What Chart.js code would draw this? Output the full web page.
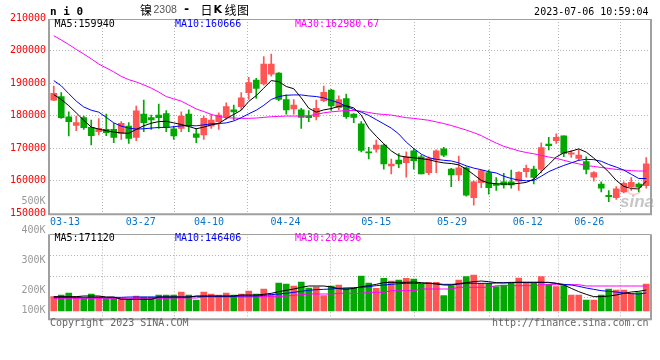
<!DOCTYPE html>
<html>
<head>
<meta charset="utf-8">
<script src="https://cdn.jsdelivr.net/npm/chart.js@4.4.0/dist/chart.umd.min.js"></script>
<style>
html, body { margin: 0; padding: 0; background: #fff; }
#wrap { position: relative; width: 660px; height: 360px; overflow: hidden; }
canvas { position: absolute; left: 0; }
#kline { top: 0; }
#vol { top: 222px; }
</style>
</head>
<body>
<div id="wrap">
  <canvas id="kline" width="660" height="232"></canvas>
  <canvas id="vol" width="660" height="138"></canvas>
</div>
<script>
// daily k-line, ni0 (nickel 2308), 80 sessions
const tickLabels = ['03-13', '03-27', '04-10', '04-24', '05-15', '05-29', '06-12', '06-26'];
const tickIndex = [1.5, 11.6, 20.7, 30.9, 43.0, 53.1, 63.2, 71.4];
const priceTicks = [150000, 160000, 170000, 180000, 190000, 200000, 210000];

const opens = [184800, 185900, 179700, 177000, 179400, 176400, 175100, 175800, 175800, 174600,
  176800, 173300, 180500, 179400, 180200, 180700, 176000, 176100, 180500, 174400,
  174100, 176800, 178200, 179700, 181800, 182800, 187100, 191000, 189800, 192800,
  193100, 185000, 182100, 181800, 179900, 179700, 184600, 187900, 182500, 185300,
  180500, 177500, 168800, 169700, 171000, 164600, 166400, 165600, 169200, 167400,
  162500, 166400, 169800, 163600, 161800, 164000, 154800, 159400, 162500, 158900,
  159700, 159700, 159900, 162800, 163600, 163500, 171300, 172300, 173800, 168200,
  166900, 165900, 161100, 159000, 155500, 154800, 156600, 158200, 159000, 158500];
const highs = [189100, 187100, 181200, 179900, 179900, 178700, 179100, 180500, 177700, 178200,
  177900, 183000, 184800, 180200, 183600, 181600, 176800, 181200, 181800, 176100,
  179900, 180500, 180900, 184000, 183300, 187100, 191800, 191500, 198200, 199000,
  193300, 186400, 185000, 182300, 181600, 184800, 189100, 188100, 186100, 186700,
  180700, 178200, 170300, 172500, 171300, 166700, 168400, 168900, 170000, 167900,
  167400, 169500, 170300, 163800, 167600, 164300, 159900, 163300, 163300, 161000,
  162300, 163300, 162800, 164800, 164500, 171700, 173400, 174400, 173800, 169300,
  169500, 167400, 162800, 159700, 157000, 158200, 159700, 161000, 159400, 167100];
const lows = [184600, 179200, 173800, 175400, 175800, 171000, 174100, 173900, 171700, 172700,
  171500, 172300, 175100, 175800, 176100, 175100, 172700, 175100, 175100, 171700,
  172700, 176100, 175800, 178900, 178700, 181800, 185000, 185300, 189400, 192200,
  184600, 180500, 180500, 176100, 178200, 178700, 184300, 181600, 181800, 179200,
  177900, 168900, 166700, 168800, 163600, 162100, 164000, 161100, 163600, 162100,
  161900, 162500, 167400, 158200, 160000, 155300, 152500, 157900, 155900, 157000,
  157700, 157700, 157000, 161100, 159000, 162400, 169500, 171500, 167400, 167200,
  166200, 162100, 159900, 156600, 153600, 154300, 156300, 157000, 156600, 157700];
const closes = [186900, 179400, 178200, 177900, 176300, 173900, 176100, 174800, 173300, 177700,
  173000, 181500, 177900, 178700, 179400, 176400, 173800, 179900, 176800, 173300,
  179200, 178700, 180200, 182800, 181200, 185500, 190200, 188400, 195900, 195900,
  185000, 181800, 183300, 179500, 179400, 182300, 187200, 183000, 185000, 179700,
  179500, 169300, 168600, 171000, 165200, 165100, 165200, 167400, 166200, 162100,
  166900, 169200, 167900, 161800, 164000, 155600, 159700, 163100, 157900, 158600,
  158700, 158700, 162600, 163800, 161000, 170200, 170800, 173400, 168400, 168600,
  167900, 163500, 162500, 157700, 155100, 157500, 159200, 159500, 158000, 165200];

const ma5 = [186500, 185000, 183100, 180900, 178600, 176500, 175900, 175400, 175000, 174700,
  174600, 175800, 176900, 177700, 178200, 178300, 177800, 177300, 176700, 176000,
  176500, 177200, 177600, 179100, 180400, 181700, 184400, 186200, 188500, 190800,
  190500, 189000, 188300, 185500, 182300, 181100, 181800, 182200, 182900, 183100,
  182400, 180200, 176200, 173700, 171400, 169200, 167700, 167300, 167100, 166800,
  166500, 165900, 165500, 165300, 164900, 163600, 161900, 160100, 159300, 159100,
  159000, 159000, 159200, 159500, 160500, 162800, 165000, 167300, 168600, 169100,
  169800, 168800, 167000, 164900, 162700, 160100, 158300, 157600, 157500, 159900];
const ma10 = [190800, 189200, 186800, 184500, 182700, 181700, 181100, 179500, 177800, 176800,
  176200, 175900, 176000, 176200, 176400, 176400, 176600, 176900, 177000, 176900,
  177200, 177500, 177600, 177800, 178400, 179400, 180600, 181700, 183200, 185000,
  185900, 186300, 186400, 186400, 186100, 185900, 185500, 184700, 184000, 182900,
  181900, 181100, 180100, 178800, 177500, 176200, 174400, 171900, 169900, 168200,
  167100, 166600, 166300, 166100, 165500, 164600, 163900, 163400, 162800, 162400,
  161400, 160700, 160200, 160000, 160100, 161400, 162800, 163800, 164700, 165500,
  166300, 166600, 166500, 166000, 165000, 164200, 163300, 162000, 160700, 160700];
const ma30 = [204600, 203300, 201900, 200400, 199000, 197500, 195900, 194700, 193500, 192100,
  191100, 190400, 189500, 188500, 187300, 185900, 185200, 184500, 183300, 182100,
  181300, 180400, 179800, 179400, 179300, 179200, 179200, 179300, 179500, 179700,
  179800, 179900, 179900, 179900, 180000, 180400, 180900, 181200, 181400, 181600,
  181600, 181400, 181000, 180600, 180400, 180200, 179800, 179400, 179200, 178900,
  178600, 178100, 177600, 177000, 176300, 175600, 174800, 173900, 172700, 171600,
  170600, 169900, 169200, 168700, 168300, 167800, 167300, 166900, 166300, 165700,
  165200, 164700, 164400, 164100, 163800, 163500, 163300, 163100, 163000, 163000];

const volumes = [116100, 129600, 145800, 116100, 102600, 137700, 116100, 102600, 102600, 102600,
  94500, 121500, 113400, 113400, 129600, 129600, 129600, 153900, 129600, 89100,
  153900, 137700, 129600, 145800, 129600, 137700, 162000, 137700, 178200, 137700,
  226800, 218700, 202500, 234900, 186300, 194400, 124200, 202500, 210600, 186300,
  183600, 283500, 226800, 183600, 264600, 243000, 251100, 264600, 259200, 216000,
  232200, 232200, 124200, 205200, 251100, 278100, 291600, 224100, 224100, 197100,
  210600, 226800, 267300, 229500, 224100, 278100, 216000, 197100, 205200, 129600,
  129600, 89100, 89100, 129600, 178200, 170100, 170100, 143100, 148500, 218700];
const volMa5 = [116100, 116100, 116100, 116100, 121500, 121500, 121500, 113400, 113400, 94500,
  94500, 94500, 94500, 94500, 113400, 113400, 113400, 113400, 113400, 121500,
  121500, 121500, 121500, 121500, 121500, 129600, 129600, 129600, 135000, 143100,
  156600, 167400, 178200, 191700, 202500, 202500, 202500, 194400, 180900, 175500,
  183600, 197100, 205200, 216000, 229500, 232200, 232200, 232200, 234900, 229500,
  224100, 218700, 210600, 210600, 221400, 229500, 237600, 243000, 237600, 229500,
  226800, 229500, 232200, 232200, 232200, 232200, 232200, 224100, 210600, 183600,
  156600, 135000, 116100, 116100, 121500, 129600, 143100, 153900, 159300, 170100];
const volMa10 = [110700, 110700, 110700, 110700, 110700, 110700, 110700, 110700, 110700, 110700,
  113400, 113400, 113400, 113400, 113400, 113400, 113400, 113400, 113400, 118800,
  118800, 118800, 118800, 118800, 118800, 121500, 121500, 121500, 126900, 132300,
  137700, 143100, 151200, 159300, 167400, 172800, 175500, 178200, 183600, 186300,
  189000, 191700, 197100, 205200, 210600, 216000, 221400, 224100, 224100, 224100,
  224100, 221400, 216000, 216000, 218700, 224100, 224100, 224100, 224100, 226800,
  229500, 232200, 232200, 232200, 232200, 232200, 229500, 224100, 216000, 210600,
  199800, 186300, 175500, 164700, 159300, 153900, 145800, 140400, 137700, 146400];
const volMa30 = [102600, 102600, 102600, 102600, 102600, 102600, 102600, 102600, 102600, 102600,
  102600, 102600, 102600, 102600, 102600, 102600, 105300, 105300, 105300, 105300,
  113400, 113400, 113400, 113400, 113400, 113400, 113400, 116100, 116100, 116100,
  116100, 121500, 126900, 132300, 137700, 137700, 137700, 137700, 143100, 143100,
  143100, 143100, 151200, 151200, 151200, 164700, 164700, 164700, 164700, 178200,
  178200, 178200, 178200, 178200, 191700, 191700, 191700, 191700, 191700, 205200,
  205200, 205200, 205200, 205200, 205200, 213300, 213300, 213300, 213300, 213300,
  213300, 202500, 202500, 202500, 202500, 202500, 202500, 202500, 202500, 202100];

const RED = '#ff5555';
const GREEN = '#00a800';
const GRID = '#b4b4b4';
const MONO = '"DejaVu Sans Mono", monospace';

Chart.defaults.font.family = MONO;
Chart.defaults.font.size = 10;

const idx = opens.map((_, i) => i);
const colors = idx.map(i => closes[i] >= opens[i] ? RED : GREEN);
const pts = arr => arr.map((v, i) => ({ x: i, y: v }));

function lineSet(arr, color) {
  return { type: 'line', data: pts(arr), borderColor: color, borderWidth: 1,
    pointRadius: 0, tension: 0, order: 0 };
}

function overlay(texts, extra) {
  return {
    id: 'overlay',
    afterDraw(chart) {
      const { ctx, chartArea: a } = chart;
      ctx.save();
      ctx.strokeStyle = '#a0a0a0';
      ctx.lineWidth = 1;
      ctx.beginPath();
      ctx.moveTo(a.left, Math.round(a.top) + 0.5);
      ctx.lineTo(a.right, Math.round(a.top) + 0.5);
      ctx.stroke();
      ctx.lineWidth = 2;
      ctx.beginPath();
      ctx.moveTo(a.left - 1, a.top);
      ctx.lineTo(a.left - 1, a.bottom + 1);
      ctx.lineTo(a.right + 1, a.bottom + 1);
      ctx.lineTo(a.right + 1, a.top);
      ctx.stroke();
      ctx.textBaseline = 'middle';
      texts.forEach(t => {
        ctx.font = t.font || ('10px ' + MONO);
        ctx.fillStyle = t.color || '#000';
        ctx.textAlign = t.align || 'left';
        ctx.fillText(t.t, t.x, t.y);
      });
      if (extra) extra(ctx, chart);
      ctx.restore();
    }
  };
}

function xAxis(showLabels, h) {
  return {
    type: 'linear', min: -0.5, max: 79.5, offset: false,
    afterBuildTicks: s => { s.ticks = tickIndex.map(v => ({ value: v })); },
    afterFit: s => { s.height = h; },
    ticks: { display: showLabels, autoSkip: false, maxRotation: 0, color: '#0a74c8',
      padding: 3, callback: (v, i) => tickLabels[i] },
    grid: { color: GRID, drawTicks: false },
    border: { display: false, dash: [1, 2] }
  };
}

const CJK = '"Noto Sans CJK SC", sans-serif';
const topTexts = [
  { t: 'n i 0', x: 50, y: 12, font: 'bold 11px ' + MONO },
  { t: '镍', x: 140, y: 10, font: '12px ' + CJK },
  { t: '2308', x: 153.5, y: 10, color: '#555', font: '10.5px "Liberation Sans"' },
  { t: '-', x: 186.5, y: 10, align: 'center', font: 'bold 12px ' + MONO },
  { t: '日', x: 200.5, y: 10, font: '12px ' + CJK },
  { t: 'K', x: 213.5, y: 10, font: 'bold 11px "DejaVu Sans"' },
  { t: '线', x: 224.5, y: 10, font: '12px ' + CJK },
  { t: '图', x: 237, y: 10, font: '12px ' + CJK },
  { t: '2023-07-06 10:59:04', x: 648.5, y: 12, align: 'right' },
  { t: 'MA5:159940', x: 54.5, y: 24 },
  { t: 'MA10:160666', x: 175, y: 24, color: '#0000ff' },
  { t: 'MA30:162980.67', x: 295, y: 24, color: '#ff00ff' },
  { t: '500K', x: 45.5, y: 201, align: 'right', color: '#999' }
];

function sinaMark(ctx) {
  ctx.strokeStyle = 'rgba(255,120,120,0.45)';
  ctx.lineWidth = 1.5;
  ctx.beginPath();
  ctx.ellipse(634, 191, 6, 3.5, 0, 0, Math.PI * 2);
  ctx.stroke();
  ctx.font = 'italic bold 17px "Liberation Sans"';
  ctx.fillStyle = 'rgba(160,160,160,0.6)';
  ctx.textAlign = 'left';
  ctx.textBaseline = 'alphabetic';
  ctx.fillText('sina', 620, 207);
}

new Chart(document.getElementById('kline'), {
  type: 'bar',
  data: {
    datasets: [
      lineSet(ma5, '#000000'),
      lineSet(ma10, '#0000ff'),
      lineSet(ma30, '#ff00ff'),
      { type: 'bar', data: idx.map(i => ({ x: i, y: [opens[i], closes[i]] })),
        backgroundColor: colors, borderWidth: 0, barThickness: 6, minBarLength: 1,
        grouped: false, order: 1 },
      { type: 'bar', data: idx.map(i => ({ x: i, y: [lows[i], highs[i]] })),
        backgroundColor: colors, borderWidth: 0, barThickness: 1,
        grouped: false, order: 2 }
    ]
  },
  options: {
    responsive: false, animation: false,
    layout: { padding: { top: 19, right: 10, left: 0, bottom: 0 } },
    plugins: { legend: { display: false }, tooltip: { enabled: false } },
    scales: {
      x: xAxis(true, 18.7),
      y: {
        min: 150000, max: 209750,
        afterBuildTicks: s => { s.ticks = priceTicks.map(v => ({ value: v })); },
        afterFit: s => { s.width = 50; },
        ticks: { color: '#ff0000', padding: 4, callback: v => String(v) },
        grid: { drawTicks: false,
          color: c => (c.tick && (c.tick.value === 150000 || c.tick.value === 210000)) ? 'rgba(0,0,0,0)' : GRID },
        border: { display: false, dash: [1, 2] }
      }
    }
  },
  plugins: [overlay(topTexts, sinaMark)]
});

const volTexts = [
  { t: '400K', x: 45.5, y: 8, align: 'right', color: '#999' },
  { t: '300K', x: 45.5, y: 38.3, align: 'right', color: '#999' },
  { t: '200K', x: 45.5, y: 68.3, align: 'right', color: '#999' },
  { t: '100K', x: 45.5, y: 88.3, align: 'right', color: '#999' },
  { t: 'MA5:171120', x: 54.5, y: 16.3 },
  { t: 'MA10:146406', x: 175, y: 16.3, color: '#0000ff' },
  { t: 'MA30:202096', x: 295, y: 16.3, color: '#ff00ff' },
  { t: 'Copyright 2023 SINA.COM', x: 50, y: 101.3, color: '#666' },
  { t: 'http://finance.sina.com.cn', x: 648.5, y: 101.3, align: 'right', color: '#666' }
];

new Chart(document.getElementById('vol'), {
  type: 'bar',
  data: {
    datasets: [
      lineSet(volMa5, '#000000'),
      lineSet(volMa10, '#0000ff'),
      lineSet(volMa30, '#ff00ff'),
      { type: 'bar', data: pts(volumes), backgroundColor: colors, borderWidth: 0,
        barThickness: 6, grouped: false, order: 1 }
    ]
  },
  options: {
    responsive: false, animation: false,
    layout: { padding: { top: 12.3, right: 10, left: 0, bottom: 0 } },
    plugins: { legend: { display: false }, tooltip: { enabled: false } },
    scales: {
      x: xAxis(false, 41.7),
      y: {
        min: -59100, max: 621300,
        // split the panel into quarters like the source chart
        afterBuildTicks: s => { s.ticks = [1, 2, 3].map(k => ({ value: s.max - (s.max - s.min) * k / 4 })); },
        afterFit: s => { s.width = 50; },
        ticks: { display: false },
        grid: { color: GRID, drawTicks: false },
        border: { display: false, dash: [1, 2] }
      }
    }
  },
  plugins: [overlay(volTexts)]
});
</script>
</body>
</html>
